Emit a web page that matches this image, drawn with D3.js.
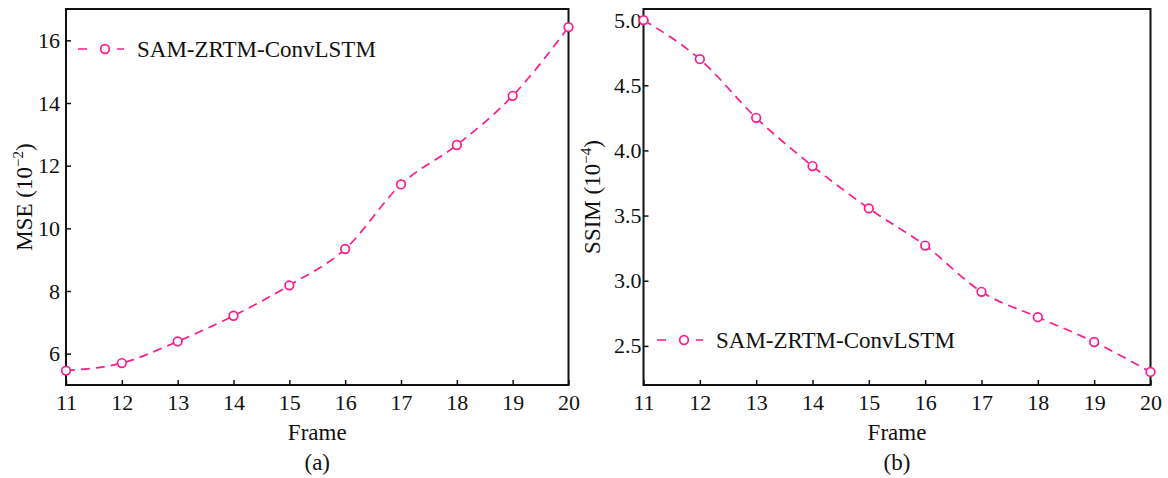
<!DOCTYPE html>
<html>
<head>
<meta charset="utf-8">
<script src="https://cdn.jsdelivr.net/npm/d3@7"></script>
<style>
  html, body { margin: 0; padding: 0; background: #fff; }
  svg { display: block; }
  text { font-family: "Liberation Serif", "Times New Roman", serif; fill: #111; }
</style>
</head>
<body>
<svg id="chart" width="1168" height="478"></svg>
<script>
// Prediction frames and per-frame metrics
const frames = [11, 12, 13, 14, 15, 16, 17, 18, 19, 20];
const mseValues = [5.46, 5.70, 6.39, 7.21, 8.18, 9.34, 11.40, 12.66, 14.23, 16.42];
const ssimValues = [5.00, 4.70, 4.25, 3.88, 3.555, 3.27, 2.915, 2.72, 2.53, 2.30];
const mseTicks = [6, 8, 10, 12, 14, 16];
const ssimTicks = [2.5, 3.0, 3.5, 4.0, 4.5, 5.0];
const seriesName = "SAM-ZRTM-ConvLSTM";
const lineColor = "#ff1a8c";

const tickFont = 22;
const labelFont = 23;

const svg = d3.select("#chart");

function panel(cfg) {
  const g = svg.append("g");
  const x = d3.scaleLinear().domain([11, 20]).range([cfg.left, cfg.right]);
  const y = d3.scaleLinear().domain(cfg.yDomain).range([cfg.bottom, cfg.top]);

  // x axis: inward ticks
  const xAxis = g.append("g").attr("transform", `translate(0,${cfg.bottom})`)
    .call(d3.axisBottom(x).tickValues(frames).tickSizeInner(-5).tickSizeOuter(0).tickPadding(9));
  xAxis.select(".domain").remove();
  xAxis.selectAll(".tick line").attr("stroke", "#111").attr("stroke-width", 1.5);
  xAxis.selectAll(".tick text").attr("font-size", tickFont).attr("font-family", "Liberation Serif").attr("fill", "#111");

  // y axis: inward ticks
  const yAxis = g.append("g").attr("transform", `translate(${cfg.left},0)`)
    .call(d3.axisLeft(y).tickValues(cfg.yTicks).tickFormat(cfg.fmt).tickSizeInner(-5).tickSizeOuter(0).tickPadding(cfg.yPad));
  yAxis.select(".domain").remove();
  yAxis.selectAll(".tick line").attr("stroke", "#111").attr("stroke-width", 1.5);
  yAxis.selectAll(".tick text").attr("font-size", tickFont).attr("font-family", "Liberation Serif").attr("fill", "#111");

  // frame box
  g.append("rect")
    .attr("x", cfg.left).attr("y", cfg.top)
    .attr("width", cfg.right - cfg.left).attr("height", cfg.bottom - cfg.top)
    .attr("fill", "none").attr("stroke", "#111").attr("stroke-width", 2);

  // series line
  const line = d3.line()
    .x((d, i) => x(frames[i]))
    .y(d => y(d))
    .curve(d3.curveMonotoneX);
  g.append("path")
    .datum(cfg.values)
    .attr("d", line)
    .attr("fill", "none")
    .attr("stroke", lineColor)
    .attr("stroke-width", 1.7)
    .attr("stroke-dasharray", "9,6");

  g.selectAll("circle.pt")
    .data(cfg.values)
    .join("circle")
    .attr("class", "pt")
    .attr("cx", (d, i) => x(frames[i]))
    .attr("cy", d => y(d))
    .attr("r", 4.3)
    .attr("fill", "#fff")
    .attr("stroke", lineColor)
    .attr("stroke-width", 1.7);

  // x label and panel caption
  const cx = (cfg.left + cfg.right) / 2;
  g.append("text").attr("x", cx).attr("y", 440).attr("text-anchor", "middle")
    .attr("font-size", labelFont).text("Frame");
  g.append("text").attr("x", cx).attr("y", 470).attr("text-anchor", "middle")
    .attr("font-size", labelFont).text(cfg.caption);

  // y label with superscript exponent
  const yl = g.append("text")
    .attr("transform", `translate(${cfg.yLabelX},${(cfg.top + cfg.bottom) / 2}) rotate(-90)`)
    .attr("text-anchor", "middle")
    .attr("font-size", labelFont);
  yl.append("tspan").text(cfg.yName + " (10");
  yl.append("tspan").attr("dy", -9).attr("font-size", 15).text(cfg.exp);
  yl.append("tspan").attr("dy", 9).text(")");

  // legend
  const lg = g.append("g");
  lg.append("line")
    .attr("x1", cfg.legX).attr("x2", cfg.legX + 46)
    .attr("y1", cfg.legY).attr("y2", cfg.legY)
    .attr("stroke", lineColor).attr("stroke-width", 1.7).attr("stroke-dasharray", "9,30,7");
  lg.append("circle")
    .attr("cx", cfg.legX + 27).attr("cy", cfg.legY).attr("r", 4.3)
    .attr("fill", "#fff").attr("stroke", lineColor).attr("stroke-width", 1.7);
  lg.append("text")
    .attr("x", cfg.legX + 59).attr("y", cfg.legY + 7.5)
    .attr("font-size", labelFont).text(seriesName);
}

panel({
  left: 66, right: 568.5, top: 9, bottom: 385,
  yDomain: [5, 17], yTicks: mseTicks, fmt: d3.format("d"), yPad: 6,
  values: mseValues, caption: "(a)", yName: "MSE", exp: "\u22122",
  yLabelX: 32, legX: 78, legY: 49
});

panel({
  left: 643.5, right: 1150.5, top: 9, bottom: 385,
  yDomain: [2.2, 5.085], yTicks: ssimTicks, fmt: d3.format(".1f"), yPad: 2,
  values: ssimValues, caption: "(b)", yName: "SSIM", exp: "\u22124",
  yLabelX: 600, legX: 657, legY: 340
});
</script>
</body>
</html>
